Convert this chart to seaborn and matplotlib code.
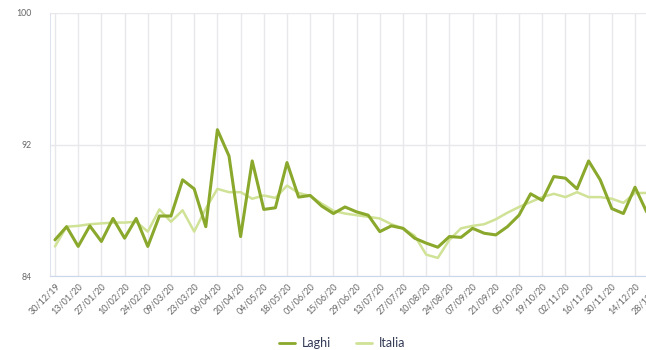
import pandas as pd
import numpy as np
import matplotlib
matplotlib.use('Agg')
import matplotlib.pyplot as plt
import seaborn as sns
from matplotlib.lines import Line2D

# Dati settimanali (30/12/19 - 28/12/20)
settimane = list(range(53))
laghi = [86.2, 87.0, 85.8, 87.05, 86.1, 87.5, 86.3, 87.5, 85.8, 87.65,
         87.65, 89.85, 89.3, 87.0, 92.9, 91.3, 86.4, 91.0, 88.05, 88.15,
         90.9, 88.8, 88.9, 88.25, 87.8, 88.2, 87.9, 87.7, 86.7, 87.05,
         86.9, 86.3, 86.0, 85.75, 86.4, 86.35, 86.9, 86.6, 86.5, 87.0,
         87.7, 89.0, 88.6, 90.05, 89.95, 89.3, 91.0, 89.85, 88.1, 87.8,
         89.4, 87.9, 87.6]
italia = [85.8, 87.0, 87.05, 87.15, 87.2, 87.25, 87.25, 87.3, 86.7, 88.05,
          87.3, 88.0, 86.7, 88.1, 89.3, 89.1, 89.1, 88.7, 88.9, 88.75,
          89.5, 89.05, 88.87, 88.4, 87.97, 87.8, 87.7, 87.6, 87.5, 87.15,
          86.9, 86.45, 85.3, 85.1, 86.2, 86.9, 87.05, 87.15, 87.45, 87.85,
          88.2, 88.5, 88.8, 89.0, 88.8, 89.1, 88.8, 88.8, 88.7, 88.45,
          89.05, 89.05, 89.1]
etichette_x = ['30/12/19', '13/01/20', '27/01/20', '10/02/20', '24/02/20',
               '09/03/20', '23/03/20', '06/04/20', '20/04/20', '04/05/20',
               '18/05/20', '01/06/20', '15/06/20', '29/06/20', '13/07/20',
               '27/07/20', '10/08/20', '24/08/20', '07/09/20', '21/09/20',
               '05/10/20', '19/10/20', '02/11/20', '16/11/20', '30/11/20',
               '14/12/20', '28/12/20']
etichette_y = [84, 92, 100]

df = pd.DataFrame({'settimana': settimane * 2,
                   'valore': laghi + italia,
                   'serie': ['Laghi'] * len(laghi) + ['Italia'] * len(italia)})

# Stile
sns.set_style('white')
plt.rcParams['font.family'] = ['Lato', 'DejaVu Sans']
colori = {'Laghi': '#8aa82c', 'Italia': '#cfe296'}

fig = plt.figure(figsize=(6.46, 3.5), dpi=100)
# l'area del grafico esce a destra (immagine tagliata come l'originale)
ax = fig.add_axes([50 / 646, 74 / 350, 611 / 646, 263 / 350])

sns.lineplot(data=df, x='settimana', y='valore', hue='serie', palette=colori,
             hue_order=['Italia', 'Laghi'], linewidth=2.0, ax=ax, legend=False,
             solid_joinstyle='round', solid_capstyle='round')
# spessori diversi
ax.lines[0].set_linewidth(1.8)
ax.lines[1].set_linewidth(2.2)

ax.set_xlim(-0.43, 52.24)
ax.set_ylim(84, 100)
ax.set_xticks(range(0, 53, 2))
ax.set_xticklabels(etichette_x, rotation=45, ha='right', rotation_mode='anchor',
                   fontsize=6.5, color='#666666')
ax.set_yticks(etichette_y)
ax.set_yticklabels([str(v) for v in etichette_y], fontsize=6.3, color='#666666')
ax.tick_params(axis='both', length=0)
ax.tick_params(axis='y', pad=13)
ax.tick_params(axis='x', pad=4)
ax.set_xlabel('')
ax.set_ylabel('')

ax.grid(True, color='#e8e8ec', linewidth=1.0)
ax.set_axisbelow(True)
for lato in ['top', 'right']:
    ax.spines[lato].set_visible(False)
ax.spines['left'].set_color('#dfe3ee')
ax.spines['bottom'].set_color('#ccd6eb')

# Legenda in basso
maniglie = [Line2D([0], [0], color=colori['Laghi'], linewidth=2),
            Line2D([0], [0], color=colori['Italia'], linewidth=2)]
fig.legend(maniglie, ['Laghi', 'Italia'], loc='center', ncol=2,
           bbox_to_anchor=(342 / 646, 1 - 343 / 350), frameon=False,
           fontsize=9, handlelength=1.3, handletextpad=0.5, columnspacing=2.0,
           labelcolor='#333a55')

fig.savefig('out.png', dpi=100)
